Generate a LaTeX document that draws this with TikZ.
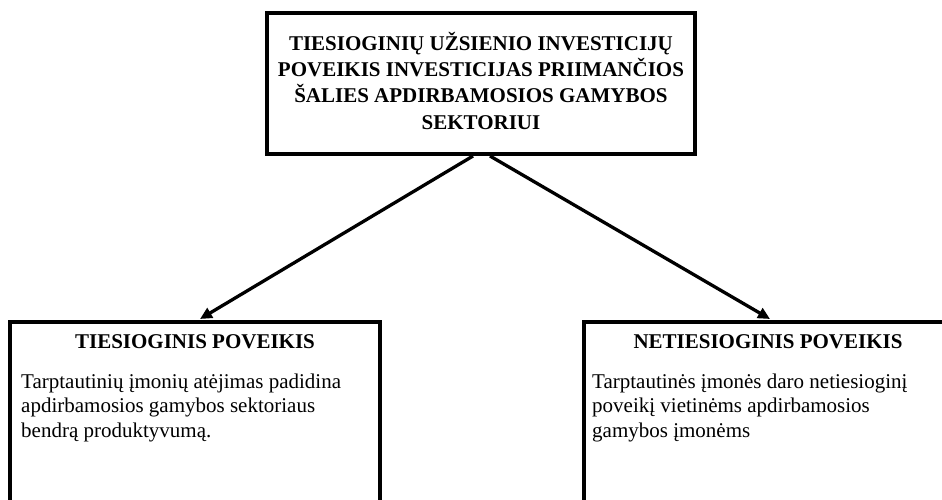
\documentclass[tikz,border=0pt]{standalone}
\usepackage{fontspec}
\setmainfont{Liberation Serif}
\usetikzlibrary{arrows.meta}
\begin{document}
\begin{tikzpicture}[x=1pt,y=-1pt,
  frame/.style={draw=black,line width=4pt,inner sep=0pt,outer sep=0pt},
  head/.style={font=\fontsize{21}{26.3}\selectfont\bfseries,inner sep=0pt,anchor=base},
  body/.style={font=\fontsize{21}{24.5}\selectfont,align=left,inner sep=0pt,anchor=north west,text height=64pt,text depth=5pt},
  conn/.style={line width=3.3pt,-{Triangle[length=12pt,width=11pt]}}]
\useasboundingbox (0,0) rectangle (942,500);
\clip (0,0) rectangle (942,500);
\node[frame,minimum width=428pt,minimum height=141pt] (topbox) at (481,83.5) {};
\node[font=\fontsize{21}{26.3}\selectfont\bfseries,align=center,inner sep=0pt,text height=94pt,text depth=4pt] (toptext) at (481,84)
  {TIESIOGINIŲ UŽSIENIO INVESTICIJŲ\\POVEIKIS INVESTICIJAS PRIIMANČIOS\\ŠALIES APDIRBAMOSIOS GAMYBOS\\SEKTORIUI};
\node[frame,minimum width=370pt,minimum height=238pt] (leftbox) at (195,441) {};
\node[frame,minimum width=368pt,minimum height=238pt] (rightbox) at (768,441) {};
\node[head] (lefthead) at (195,348) {TIESIOGINIS POVEIKIS};
\node[head] (righthead) at (768,348) {NETIESIOGINIS POVEIKIS};
\node[body] (leftbody) at (21,373) {Tarptautinių įmonių atėjimas padidina\\apdirbamosios gamybos sektoriaus\\bendrą produktyvumą.};
\node[body] (rightbody) at (592,373) {Tarptautinės įmonės daro netiesioginį\\poveikį vietinėms apdirbamosios\\gamybos įmonėms};
\draw[conn] ([xshift=-8pt,yshift=-2pt]topbox.south) -- ([xshift=5pt,yshift=3pt]leftbox.north);
\draw[conn] ([xshift=9pt,yshift=-2pt]topbox.south) -- ([xshift=2pt,yshift=3pt]rightbox.north);
\end{tikzpicture}
\end{document}
